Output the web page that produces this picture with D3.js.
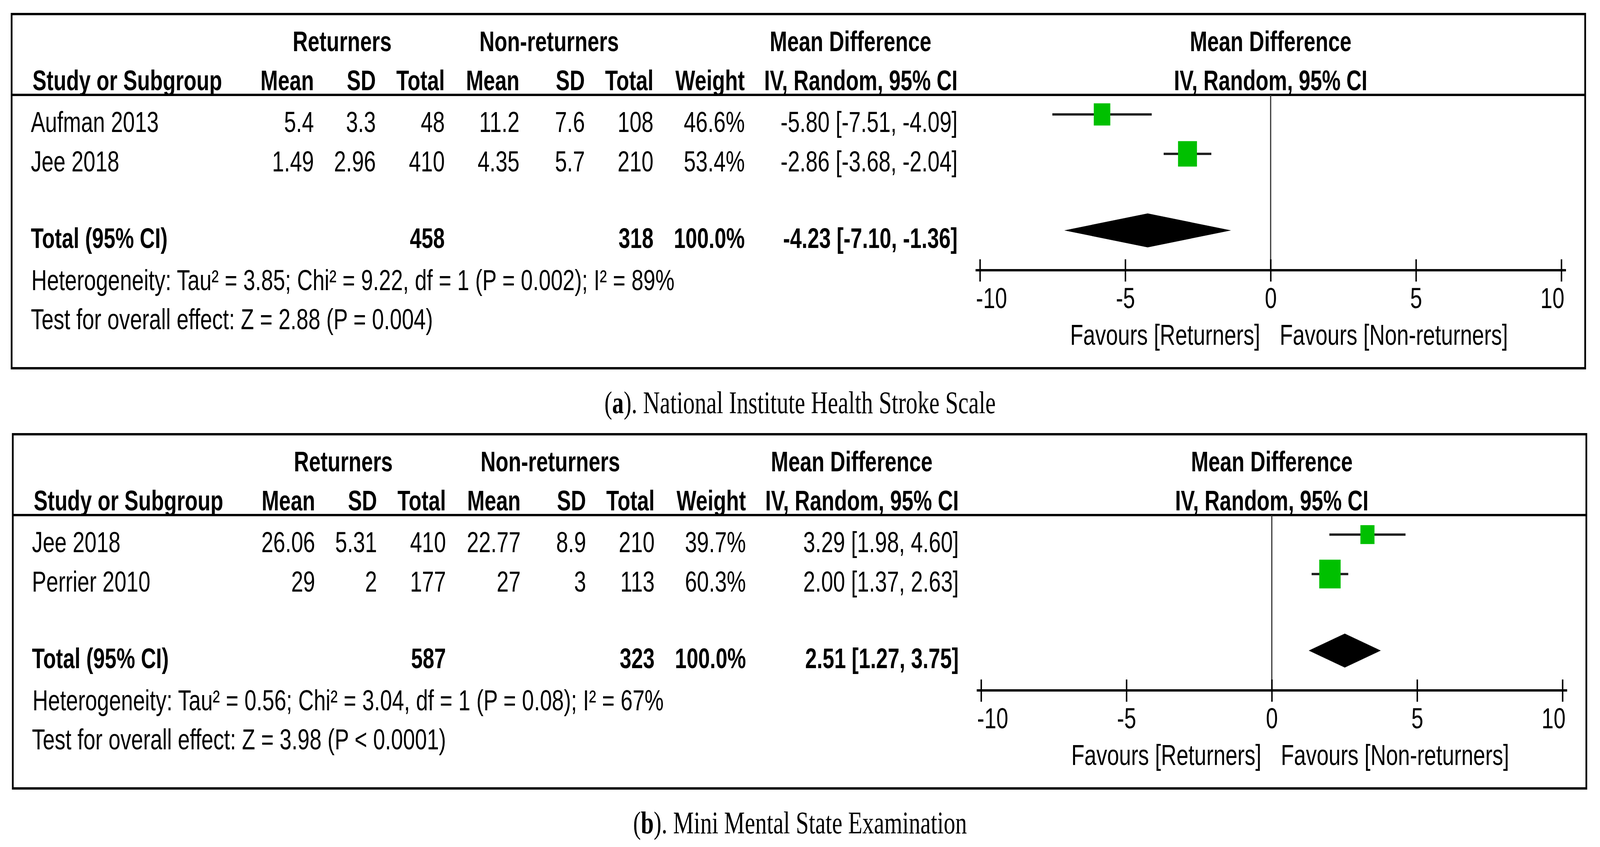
<!DOCTYPE html>
<html>
<head>
<meta charset="utf-8">
<script src="https://cdn.jsdelivr.net/npm/d3@7"></script>
<style>
  html, body { margin: 0; padding: 0; background: #fff; overflow: hidden; }
  svg { display: block; }
  svg text { font-family: "Liberation Sans", Arial, sans-serif; }
</style>
</head>
<body>
<svg id="chart"></svg>
<script>
// data (a = NIHSS, b = MMSE)
const captionLetters = ["a", "b"];
const captionTitles = ["National Institute Health Stroke Scale", "Mini Mental State Examination"];

const studies = [["Aufman 2013", "Jee 2018"], ["Jee 2018", "Perrier 2010"]];
const retMean = [["5.4", "1.49"], ["26.06", "29"]];
const retSD = [["3.3", "2.96"], ["5.31", "2"]];
const retN = [[48, 410], [410, 177]];
const nonMean = [["11.2", "4.35"], ["22.77", "27"]];
const nonSD = [["7.6", "5.7"], ["8.9", "3"]];
const nonN = [[108, 210], [210, 113]];
const weights = [[46.6, 53.4], [39.7, 60.3]];
const md = [[-5.80, -2.86], [3.29, 2.00]];
const ciLow = [[-7.51, -3.68], [1.98, 1.37]];
const ciHigh = [[-4.09, -2.04], [4.60, 2.63]];

const totalMD = [-4.23, 2.51];
const totalLow = [-7.10, 1.27];
const totalHigh = [-1.36, 3.75];

const tau2 = ["3.85", "0.56"];
const chi2 = ["9.22", "3.04"];
const dfHet = [1, 1];
const pHet = ["0.002", "0.08"];
const i2 = [89, 67];
const zVal = ["2.88", "3.98"];
const pOverall = ["= 0.004", "< 0.0001"];

const xTicks = [-10, -5, 0, 5, 10];
const favours = ["Favours [Returners]", "Favours [Non-returners]"];

// ---- layout, drawn in 5504x2169 units and stretched onto the window
const W = 5504, H = 2169;
const panelDy = [0, 1076];
const panelDx = [0, 4];
const FS = 74;

const svg = d3.select("#chart")
  .attr("viewBox", `0 0 ${W} ${H}`)
  .attr("preserveAspectRatio", "none")
  .attr("width", window.innerWidth)
  .attr("height", window.innerHeight);
svg.append("rect").attr("width", W).attr("height", H).attr("fill", "#fff");

const f2 = v => d3.format(".2f")(v).replace("\u2212", "-");
const f1 = v => d3.format(".1f")(v);

const x = d3.scaleLinear().domain([-10, 10]).range([3371, 5371]);
const boxSide = d3.scaleLinear().domain([0, 100]).range([0, 122]);

// right edges of the numeric columns
const colRight = { rMean: 1080, rSD: 1293, rN: 1530, nMean: 1787, nSD: 2012, nN: 2248, w: 2562, ci: 3294 };

const rowY = i => 338 + i * 101;
const markOff = 45;

captionLetters.forEach((letter, p) => {
  const g = svg.append("g").attr("transform", `translate(${panelDx[p]},${panelDy[p]})`);

  // frame
  g.append("rect")
    .attr("x", 40).attr("y", 36)
    .attr("width", 5413).attr("height", 907)
    .attr("fill", "none").attr("stroke", "#000").attr("stroke-width", 6);
  g.append("line")
    .attr("x1", 40).attr("x2", 5453).attr("y1", 243).attr("y2", 243)
    .attr("stroke", "#000").attr("stroke-width", 6);

  const txt = (t, xx, yy, anchor = "start", bold = false) =>
    g.append("text")
      .attr("x", xx).attr("y", yy)
      .attr("text-anchor", anchor)
      .attr("font-size", bold ? 72 : FS)
      .attr("font-weight", bold ? "bold" : "normal")
      .attr("fill", "#000")
      .text(t);

  // headers
  txt("Returners", 1177, 131, "middle", true);
  txt("Non-returners", 1889, 131, "middle", true);
  txt("Mean Difference", 2926, 131, "middle", true);
  txt("Mean Difference", x(0), 131, "middle", true);
  txt("Study or Subgroup", 112, 231, "start", true);
  txt("Mean", colRight.rMean, 231, "end", true);
  txt("SD", colRight.rSD, 231, "end", true);
  txt("Total", colRight.rN, 231, "end", true);
  txt("Mean", colRight.nMean, 231, "end", true);
  txt("SD", colRight.nSD, 231, "end", true);
  txt("Total", colRight.nN, 231, "end", true);
  txt("Weight", colRight.w, 231, "end", true);
  txt("IV, Random, 95% CI", colRight.ci, 231, "end", true);
  txt("IV, Random, 95% CI", x(0), 231, "middle", true);

  // study rows
  studies[p].forEach((name, i) => {
    const y = rowY(i);
    txt(name, 106, y);
    txt(retMean[p][i], colRight.rMean, y, "end");
    txt(retSD[p][i], colRight.rSD, y, "end");
    txt(retN[p][i], colRight.rN, y, "end");
    txt(nonMean[p][i], colRight.nMean, y, "end");
    txt(nonSD[p][i], colRight.nSD, y, "end");
    txt(nonN[p][i], colRight.nN, y, "end");
    txt(f1(weights[p][i]) + "%", colRight.w, y, "end");
    txt(`${f2(md[p][i])} [${f2(ciLow[p][i])}, ${f2(ciHigh[p][i])}]`, colRight.ci, y, "end");
  });

  // total row
  const ty = 635;
  txt("Total (95% CI)", 106, ty, "start", true);
  txt(d3.sum(retN[p]), colRight.rN, ty, "end", true);
  txt(d3.sum(nonN[p]), colRight.nN, ty, "end", true);
  txt(f1(d3.sum(weights[p])) + "%", colRight.w, ty, "end", true);
  txt(`${f2(totalMD[p])} [${f2(totalLow[p])}, ${f2(totalHigh[p])}]`, colRight.ci, ty, "end", true);

  txt(`Heterogeneity: Tau\u00b2 = ${tau2[p]}; Chi\u00b2 = ${chi2[p]}, df = ${dfHet[p]} (P = ${pHet[p]}); I\u00b2 = ${i2[p]}%`, 108, 743);
  txt(`Test for overall effect: Z = ${zVal[p]} (P ${pOverall[p]})`, 106, 843);

  // zero line
  g.append("line")
    .attr("x1", x(0)).attr("x2", x(0)).attr("y1", 243).attr("y2", 692)
    .attr("stroke", "#333").attr("stroke-width", 4);

  // CI lines + squares
  const rows = studies[p].map((s, i) => ({ md: md[p][i], lo: ciLow[p][i], hi: ciHigh[p][i], w: weights[p][i], y: rowY(i) - markOff }));
  g.selectAll(".ci").data(rows).enter().append("line")
    .attr("x1", d => x(d.lo)).attr("x2", d => x(d.hi))
    .attr("y1", d => d.y).attr("y2", d => d.y)
    .attr("stroke", "#222").attr("stroke-width", 6);
  g.selectAll(".sq").data(rows).enter().append("rect")
    .attr("x", d => x(d.md) - boxSide(d.w) / 2)
    .attr("y", d => d.y - boxSide(d.w) / 2)
    .attr("width", d => boxSide(d.w))
    .attr("height", d => boxSide(d.w))
    .attr("fill", "#00c000");

  // pooled diamond
  const dy = ty - markOff, hh = 43.5;
  g.append("path")
    .attr("d", `M${x(totalLow[p])},${dy}L${x(totalMD[p])},${dy - hh}L${x(totalHigh[p])},${dy}L${x(totalMD[p])},${dy + hh}Z`)
    .attr("fill", "#000");

  // axis
  const ax = g.append("g").attr("transform", "translate(0,692)")
    .call(d3.axisBottom(x).tickValues(xTicks).tickFormat(d => String(d)).tickSizeOuter(0));
  ax.select(".domain")
    .attr("d", `M${x.range()[0] - 15},0H${x.range()[1] + 16}`)
    .attr("stroke", "#000").attr("stroke-width", 6);
  ax.selectAll(".tick line")
    .attr("y1", -28).attr("y2", 29)
    .attr("stroke", "#000").attr("stroke-width", 5);
  ax.selectAll(".tick text")
    .attr("y", 97).attr("dy", null)
    .attr("font-size", FS)
    .attr("font-family", "'Liberation Sans', Arial, sans-serif")
    .attr("fill", "#000")
    .attr("text-anchor", d => d === xTicks[0] ? "start" : d === xTicks[xTicks.length - 1] ? "end" : "middle")
    .attr("dx", d => d === xTicks[0] ? -14 : d === xTicks[xTicks.length - 1] ? 10 : 0);

  txt(favours[0], x(0) - 36, 883, "end");
  txt(favours[1], x(0) + 31, 883, "start");

  // caption under the frame
  const cap = g.append("text")
    .attr("x", 2752 - panelDx[p]).attr("y", 1058)
    .attr("text-anchor", "middle")
    .attr("font-size", 80)
    .style("font-family", "'Liberation Serif', 'Times New Roman', serif")
    .attr("fill", "#000");
  cap.append("tspan").text("(");
  cap.append("tspan").attr("font-weight", "bold").text(letter);
  cap.append("tspan").text("). " + captionTitles[p]);
});
</script>
</body>
</html>
